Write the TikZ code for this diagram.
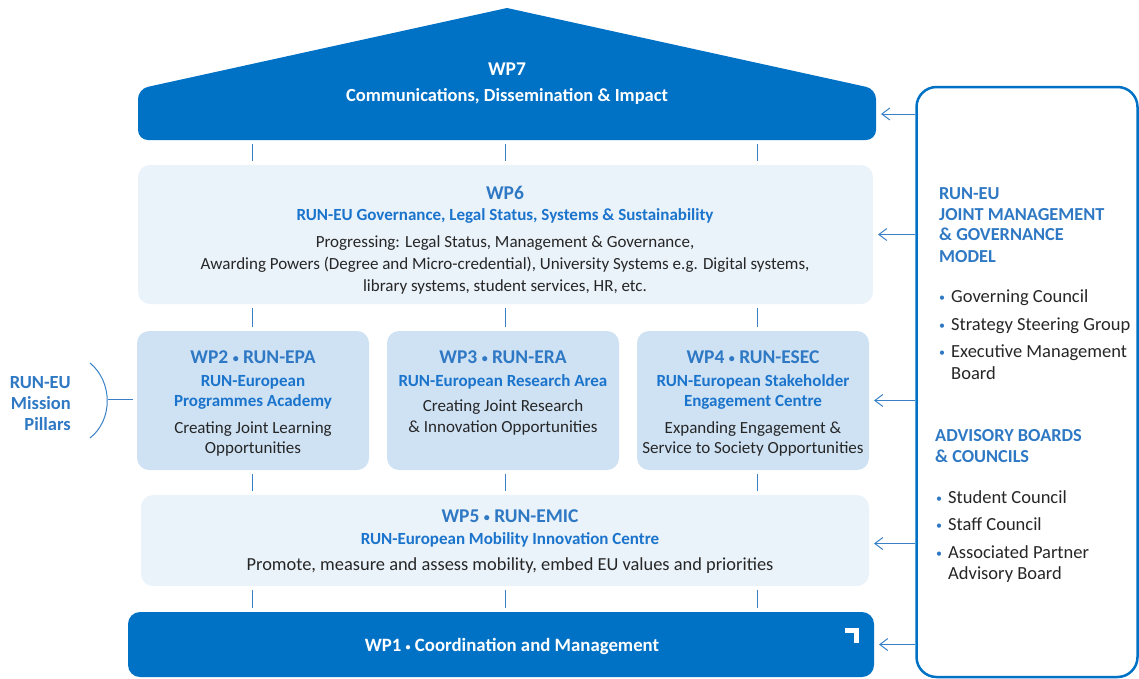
\documentclass[tikz,border=0pt]{standalone}
\usepackage{fontspec}
\setmainfont{Carlito}
\usetikzlibrary{arrows.meta}
\definecolor{dkblue}{HTML}{0072C6}
\definecolor{paleblue}{HTML}{EAF2FA}
\definecolor{pillarblue}{HTML}{CFE2F4}
\definecolor{headblue}{HTML}{2E78C4}
\definecolor{subblue}{HTML}{1B74CC}
\definecolor{lineblue}{HTML}{3A80C6}
\definecolor{bodytext}{HTML}{262626}
\newcommand{\smbul}{{\fontsize{12}{12}\selectfont\raisebox{0.8pt}{•}}}
\tikzset{
  box/.style={rounded corners=12pt, inner sep=0pt, outer sep=0pt},
  lightbox/.style={box, fill=paleblue},
  pillarbox/.style={box, fill=pillarblue},
  darkbox/.style={box, fill=dkblue},
  ghost/.style={inner sep=0pt, outer sep=0pt},
  tickline/.style={draw=lineblue, line width=1pt, shorten <=4pt, shorten >=4pt},
  arr/.style={draw=lineblue, line width=1pt, -{Straight Barb[length=8pt,width=12pt]}, shorten >=5pt},
  txt/.style={inner sep=0pt, anchor=base},
  wphead/.style={txt, text=headblue, font=\fontsize{19.5}{22}\selectfont\bfseries},
  wpsub/.style={txt, text=subblue, font=\fontsize{17}{20}\selectfont\bfseries},
  wpbody/.style={txt, text=bodytext, font=\fontsize{17}{20}\selectfont},
  whitehead/.style={txt, text=white, font=\fontsize{19.5}{22}\selectfont\bfseries},
  whitesub/.style={txt, text=white, font=\fontsize{18.5}{20}\selectfont\bfseries},
  panelhead/.style={txt, anchor=base west, text=headblue, font=\fontsize{18.3}{20}\selectfont\bfseries},
  panelitem/.style={txt, anchor=base west, text=bodytext, font=\fontsize{18.5}{20}\selectfont},
  panelbullet/.style={txt, anchor=base west, text=headblue, font=\fontsize{18.5}{20}\selectfont},
  pillarlabel/.style={txt, anchor=base east, text=headblue, font=\fontsize{18.5}{20}\selectfont\bfseries},
}
\begin{document}
\begin{tikzpicture}[x=1pt, y=-1pt]
\useasboundingbox (0,0) rectangle (1139,678);

% ---- roof WP7
\fill[dkblue] (507,8) [rounded corners=10pt] -- (876,89) -- (876,140) -- (138,140) -- (138,89) [sharp corners] -- cycle;
\node[ghost, minimum width=738pt, minimum height=52pt] (wp7) at (507,114) {};
\node[whitehead] (t7a) at (507,75) {WP7};
\node[whitesub] (t7b) at (507,101) {Communications, Dissemination \& Impact};

% ---- boxes
\node[lightbox, minimum width=735pt, minimum height=139pt] (wp6) at (505.5,234.5) {};
\node[pillarbox, minimum width=232pt, minimum height=139pt] (wp2) at (253,400.5) {};
\node[pillarbox, minimum width=232pt, minimum height=139pt] (wp3) at (503,400.5) {};
\node[pillarbox, minimum width=232pt, minimum height=139pt] (wp4) at (753,400.5) {};
\node[lightbox, minimum width=728pt, minimum height=91pt] (wp5) at (505,540.5) {};
\node[darkbox, minimum width=746pt, minimum height=65pt] (wp1) at (501,644.5) {};

% ---- column coordinates for ticks
\coordinate (c1) at (252,0);
\coordinate (c2) at (505,0);
\coordinate (c3) at (757,0);

\foreach \c in {c1,c2,c3}{
  \draw[tickline] (wp7.south -| \c) -- (wp6.north -| \c);
  \draw[tickline] (wp5.south -| \c) -- (wp1.north -| \c);
}
\draw[tickline] (wp6.south -| c1) -- (wp2.north -| c1);
\draw[tickline] (wp6.south -| c2) -- (wp3.north -| c2);
\draw[tickline] (wp6.south -| c3) -- (wp4.north -| c3);
\draw[tickline] (wp2.south -| c1) -- (wp5.north -| c1);
\draw[tickline] (wp3.south -| c2) -- (wp5.north -| c2);
\draw[tickline] (wp4.south -| c3) -- (wp5.north -| c3);

% ---- WP6 text
\node[wphead] (t6a) at (505,199.5) {WP6};
\node[wpsub] (t6b) at (505,220.5) {RUN-EU Governance, Legal Status, Systems \& Sustainability};
\node[wpbody] (t6c) at (505,247.5) {Progressing: Legal Status, Management \& Governance,};
\node[wpbody] (t6d) at (505,269.5) {Awarding Powers (Degree and Micro-credential), University Systems e.g. Digital systems,};
\node[wpbody] (t6e) at (505,291.5) {library systems, student services, HR, etc.};

% ---- WP2
\node[wphead] (t2a) at (253,363.5) {WP2 \smbul{} RUN-EPA};
\node[wpsub] (t2b) at (253,386.5) {RUN-European};
\node[wpsub] (t2c) at (253,406.5) {Programmes Academy};
\node[wpbody] (t2d) at (253,433.5) {Creating Joint Learning};
\node[wpbody] (t2e) at (253,453.5) {Opportunities};

% ---- WP3
\node[wphead] (t3a) at (503,363.5) {WP3 \smbul{} RUN-ERA};
\node[wpsub] (t3b) at (503,386.5) {RUN-European Research Area};
\node[wpbody] (t3c) at (503,411.5) {Creating Joint Research};
\node[wpbody] (t3d) at (503,432.5) {\& Innovation Opportunities};

% ---- WP4
\node[wphead] (t4a) at (753,363.5) {WP4 \smbul{} RUN-ESEC};
\node[wpsub] (t4b) at (753,386.5) {RUN-European Stakeholder};
\node[wpsub] (t4c) at (753,406.5) {Engagement Centre};
\node[wpbody] (t4d) at (753,433.5) {Expanding Engagement \&};
\node[wpbody] (t4e) at (753,453.5) {Service to Society Opportunities};

% ---- WP5
\node[wphead] (t5a) at (510,522.5) {WP5 \smbul{} RUN-EMIC};
\node[wpsub] (t5b) at (510,544.5) {RUN-European Mobility Innovation Centre};
\node[wpbody, font=\fontsize{18.4}{20}\selectfont] (t5c) at (510,570.5) {Promote, measure and assess mobility, embed EU values and priorities};

% ---- WP1
\node[whitesub, font=\fontsize{18.8}{20}\selectfont\bfseries] (t1) at (512,651.5) {WP1 {\fontsize{10}{10}\selectfont\raisebox{1pt}{•}} Coordination and Management};
\draw[white, line width=5pt] (844.5,630.5) -- (856.5,630.5) -- (856.5,642.5);

% ---- left label
\node[pillarlabel] (pl1) at (71,388.5) {RUN-EU};
\node[pillarlabel] (pl2) at (71,409.5) {Mission};
\node[pillarlabel] (pl3) at (71,430.5) {Pillars};
\draw[lineblue, line width=1pt] (90,363) .. controls (113,382) and (113,420) .. (90,438);
\coordinate (brk) at (107.5,399);
\draw[lineblue, line width=1pt, shorten >=4pt] (brk) -- (wp2.west |- brk);

% ---- right panel
\node[draw=dkblue, line width=2.5pt, rounded corners=20pt, minimum width=221pt, minimum height=590pt, inner sep=0pt] (panel) at (1027,382) {};
\draw[arr] (panel.west |- wp7.east) -- (wp7.east);
\draw[arr] (panel.west |- wp6.east) -- (wp6.east);
\draw[arr] (panel.west |- wp4.east) -- (wp4.east);
\draw[arr] ([yshift=-3pt]panel.west |- wp5.east) -- ([yshift=-3pt]wp5.east);
\draw[arr] (panel.west |- wp1.east) -- (wp1.east);

\node[panelhead] (ph1) at (939,199.5) {RUN-EU};
\node[panelhead] (ph2) at (939,220.5) {JOINT MANAGEMENT};
\node[panelhead] (ph3) at (939,240.5) {\& GOVERNANCE};
\node[panelhead] (ph4) at (939,262.5) {MODEL};
\node[panelbullet] (pb1) at (939,302.5) {\smbul};
\node[panelitem] (pi1) at (951,302.5) {Governing Council};
\node[panelbullet] (pb2) at (939,330.5) {\smbul};
\node[panelitem] (pi2) at (951,330.5) {Strategy Steering Group};
\node[panelbullet] (pb3) at (939,357.5) {\smbul};
\node[panelitem] (pi3) at (951,357.5) {Executive Management};
\node[panelitem] (pi4) at (951,379.5) {Board};

\node[panelhead] (ph5) at (935,441.5) {ADVISORY BOARDS};
\node[panelhead] (ph6) at (935,462.5) {\& COUNCILS};
\node[panelbullet] (pb4) at (936,503.5) {\smbul};
\node[panelitem] (pi5) at (948,503.5) {Student Council};
\node[panelbullet] (pb5) at (936,530.5) {\smbul};
\node[panelitem] (pi6) at (948,530.5) {Staff Council};
\node[panelbullet] (pb6) at (936,558.5) {\smbul};
\node[panelitem] (pi7) at (948,558.5) {Associated Partner};
\node[panelitem] (pi8) at (948,579.5) {Advisory Board};
\end{tikzpicture}
\end{document}
